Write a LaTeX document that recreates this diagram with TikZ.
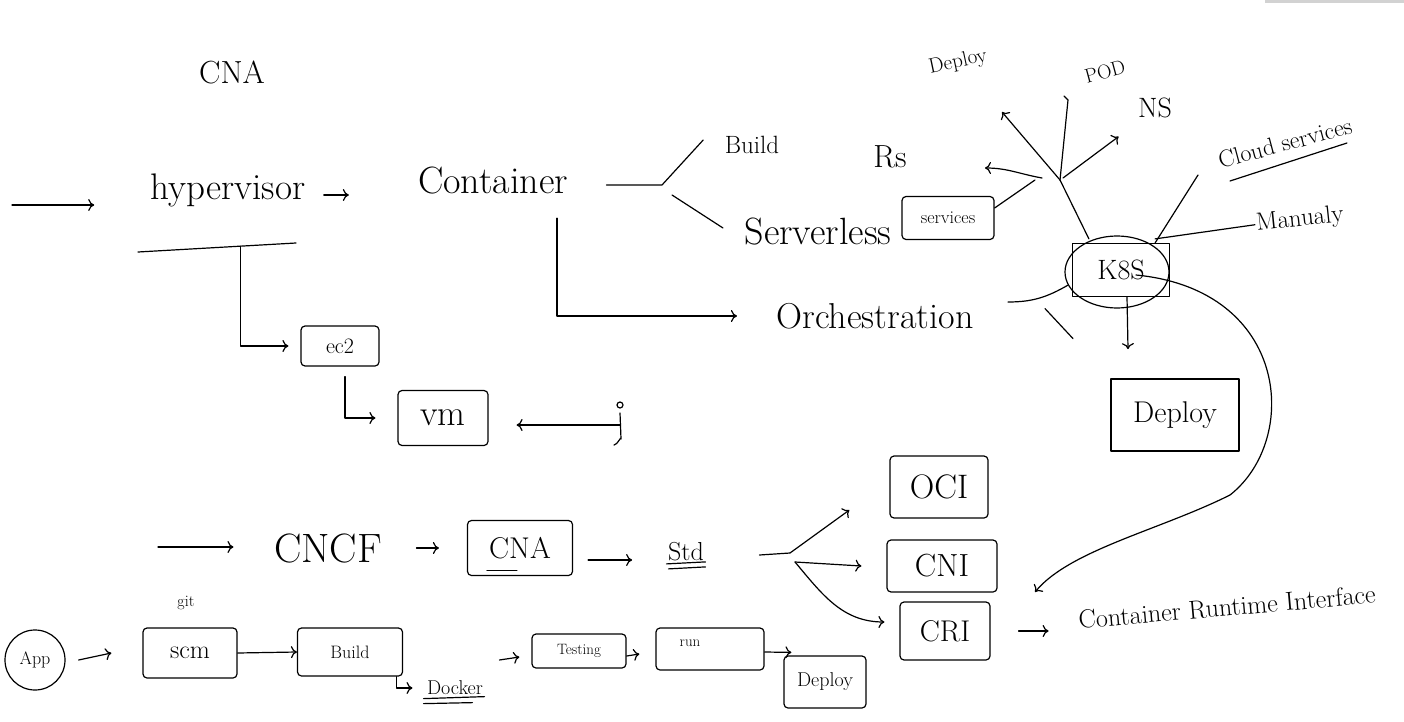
\documentclass[tikz,border=0pt]{standalone}
\usetikzlibrary{arrows.meta,calc,shapes.geometric}
\newcommand{\myfs}[1]{\fontsize{#1}{#1}\selectfont}
\begin{document}
\begin{tikzpicture}[x=1pt,y=-1pt, line width=1.2pt, line cap=round, line join=round,
  arr/.style={-{To[length=6pt,width=12pt]}},
  lbl/.style={inner sep=1pt},
  box/.style={draw, rounded corners=4pt, inner sep=2pt},
]
\useasboundingbox (0,0) rectangle (1404,722);
\fill[gray!35] (1265,0) rectangle (1404,3);

% ---------- top part ----------
\node[lbl,font=\myfs{32}] (cnatitle) at (232,72) {CNA};
\node[lbl,font=\myfs{37}] (hyp) at (228,190) {hypervisor};
\node[lbl,font=\myfs{38}] (cont) at (493,181) {Container};
\node[lbl,font=\myfs{25}] (build1) at (752,145) {Build};
\node[lbl,font=\myfs{32}] (rs) at (890,157) {Rs};
\node[lbl,font=\myfs{38}] (srv) at (818,232) {Serverless};
\node[box,font=\myfs{18},minimum width=92,minimum height=43] (svc) at (948,218) {services};
\node[lbl,font=\myfs{36}] (orch) at (875,316) {Orchestration};
\node[draw,minimum width=97,minimum height=53,font=\myfs{28}] (k8s) at (1121,270) {K8S};
\node[draw,ellipse,minimum width=104,minimum height=72] (k8sring) at (1117,272) {};
\coordinate (hub) at (1060,180);
\node[lbl,font=\myfs{21},rotate=12] (dep1) at (958,62) {Deploy};
\node[lbl,font=\myfs{20},rotate=15] (pod) at (1105,72) {POD};
\node[lbl,font=\myfs{28}] (ns) at (1155,108) {NS};
\node[lbl,font=\myfs{24},rotate=15] (cloud) at (1285,143) {Cloud services};
\node[lbl,font=\myfs{25},rotate=6] (manual) at (1300,220) {Manualy};
\node[draw,minimum width=128,minimum height=72,font=\myfs{30}] (dep2) at (1175,415) {Deploy};
\node[box,font=\myfs{22},minimum width=78,minimum height=40] (ec2) at (340,346) {ec2};
\node[box,font=\myfs{36},minimum width=90,minimum height=55] (vm) at (443,418) {vm};
\coordinate (jd) at (620,425);
\coordinate (s1) at (12,205);
\coordinate (hbarL) at (138,252);
\coordinate (hbarR) at (296,243);
\coordinate (hbar) at ($(hbarL)!0.65!(hbarR)$);
\coordinate (cb) at (662,185);
\coordinate (depTip) at (1002,112);
\coordinate (podTop) at (1068,100);
\coordinate (rsTip) at (985,168);

% ---------- bottom part ----------
\coordinate (s2) at (158,547);
\node[lbl,font=\myfs{41}] (cncf) at (328,548) {CNCF};
\node[box,font=\myfs{30},minimum width=105,minimum height=55] (cna2) at (520,548) {CNA};
\node[lbl,font=\myfs{26}] (std) at (686,552) {Std};
\coordinate (sb) at (790,553);
\node[box,font=\myfs{34},minimum width=98,minimum height=62] (oci) at (939,487) {OCI};
\node[box,font=\myfs{32},minimum width=110,minimum height=52] (cni) at (942,566) {CNI};
\node[box,font=\myfs{30},minimum width=90,minimum height=58] (cri) at (945,631) {CRI};
\node[lbl,font=\myfs{26},rotate=5] (critext) at (1227,607) {Container Runtime Interface};
\coordinate (crArr) at (1035,592);

\node[draw,circle,minimum size=60,font=\myfs{18},inner sep=0pt] (app) at (35,660) {App};
\node[box,font=\myfs{26},minimum width=94,minimum height=50] (scm) at (190,653) {scm};
\node[lbl,font=\myfs{16}] (git) at (186,603) {git};
\node[box,font=\myfs{18},minimum width=105,minimum height=48] (build2) at (350,652) {Build};
\node[lbl,font=\myfs{20}] (docker) at (455,688) {Docker};
\node[box,font=\myfs{15},minimum width=94,minimum height=34] (test) at (579,651) {Testing};
\node[box,minimum width=108,minimum height=42] (run) at (710,649) {};
\node[lbl,font=\myfs{15}] (runt) at (690,643) {run};
\node[box,font=\myfs{20},minimum width=82,minimum height=52] (dep3) at (825,682) {Deploy};

% ---------- connectors top ----------
\draw[arr] (s1) -- ([xshift=-55]hyp.west |- s1);
\draw[arr] ([xshift=17,yshift=-5]hyp.east) -- ++(25,0);
\draw (hbarL) -- (hbarR);
\draw[arr] (hbar) |- ([xshift=-12]ec2.west);
\draw[arr] ([xshift=5,yshift=-10]ec2.south) |- ([xshift=-22]vm.west);
\draw[arr, shorten >=28pt] (jd) -- (jd -| vm.east);
\draw ($(jd)+(0,-12)$) -- ($(jd)+(1,14)$) to[out=90,in=0] ($(jd)+(-6,20)$);
\draw ($(jd)+(0,-20)$) circle (3);

\draw ([xshift=37,yshift=-4]cont.east) -- (cb) -- ([xshift=-20,yshift=5]build1.west);
\draw ([xshift=10,yshift=-10]cb) -- ([xshift=-20,yshift=4]srv.west);
\draw[arr] ([xshift=64,yshift=-22]cont.south) |- ([xshift=-38]orch.west);
\draw ([yshift=10]svc.east) -- ([xshift=-25]hub);
\draw ([xshift=33,yshift=14]orch.east) to[out=0,in=-150] (k8sring.195);
\draw ($(k8sring.south)+(-72,0)$) -- ($(k8sring.south)+(-44,30)$);

\draw ($(k8s.north west)+(17,-4)$) -- (hub);
\draw[arr] (hub) -- (depTip);
\draw (hub) -- (podTop) -- ++(-4,-4);
\draw[arr] ($(hub)+(3,-2)$) -- ($(ns.south west)+(-18,17)$);
\draw[arr] ($(hub)+(-18,-2)$) to[out=170,in=0] (rsTip);

\draw ($(k8s.north east)+(-15,0)$) -- ($(cloud.center)+(-87,32)$);
\draw ($(cloud.center)+(-55,38)$) -- ($(cloud.center)+(62,0)$);
\draw ($(k8s.north east)+(-15,-4)$) -- (manual.west);
\draw[arr] ($(k8s.south)+(6,0)$) -- ($(k8s.south)+(7,52)$);
\draw[arr] ($(k8s.center)+(15,5)$) .. controls (1290,290) and (1300,440) .. (1230,495)
  .. controls (1160,530) and (1070,550) .. (crArr);

% ---------- connectors bottom ----------
\draw[arr] (s2) -- ([xshift=-39]cncf.west |- s2);
\draw[arr] ([xshift=33]cncf.east) -- ([xshift=-28]cna2.west);
\draw ($(cna2.south west)+(20,-6)$) -- ++(30,0);
\draw[arr] ([xshift=15,yshift=-12]cna2.east) -- ++(44,0);
\draw ($(std.south west)+(0,1)$) -- ($(std.south east)+(0,-1)$);
\draw ($(std.south west)+(2,6)$) -- ($(std.south east)+(0,4)$);
\draw ([xshift=54,yshift=-3]std.east) -- (sb);
\draw[arr] (sb) -- ([xshift=-40,yshift=-23]oci.west);
\draw[arr] ($(sb)+(5,9)$) -- ([xshift=-25]cni.west);
\draw[arr] ($(sb)+(5,9)$) to[out=-50,in=180] ([xshift=-15,yshift=9]cri.west);
\draw[arr] ([xshift=28]cri.east) -- ++(30,0);

\draw[arr] ([xshift=13]app.east) -- ([xshift=-31]scm.west);
\draw[arr] (scm.east) -- (build2.west);
\draw[arr] ([xshift=-7]build2.south east) |- ([xshift=-13]docker.west);
\draw ($(docker.south west)+(-2,2)$) -- ($(docker.south east)+(0,0)$);
\draw ($(docker.south west)+(-2,7)$) -- ($(docker.south east)+(-12,6)$);
\draw[arr] ([xshift=-32,yshift=-9]test.west) -- ([xshift=-12,yshift=-6]test.west);
\draw[arr] ([yshift=-5]test.east) -- ([xshift=-16,yshift=-5]run.west);
\draw[arr] ([yshift=-3]run.east) -- ([xshift=8,yshift=3]dep3.north west);
\end{tikzpicture}
\end{document}
